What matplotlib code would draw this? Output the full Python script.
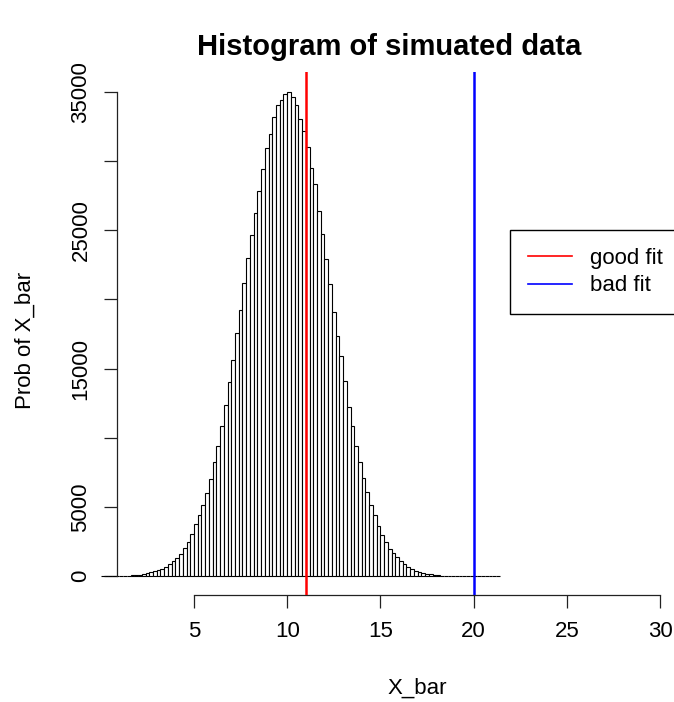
import numpy as np
import matplotlib
matplotlib.use("Agg")
import matplotlib.pyplot as plt

plt.rcParams['font.family'] = ['Liberation Sans', 'DejaVu Sans']

# ---- data ----
bin_width = 0.2
bin_left = np.round(np.arange(0.0, 21.4 - 1e-9, bin_width), 1)
counts = [
    0, 0, 0, 0, 0, 0,                                   # 0.0 - 1.0
    20, 40, 60, 90, 130, 160, 210, 290, 360, 460,       # 1.2 - 3.0
    560, 700, 870, 1100, 1300, 1640, 2050, 2450, 3050, 3800,   # 3.2 - 5.0
    4400, 5120, 5990, 7050, 8260, 9410, 10860, 12370, 14060, 15620,  # 5.2 - 7.0
    17550, 19220, 21150, 23000, 24640, 26230, 27840, 29380, 30900, 31960,  # 7.2 - 9.0
    33150, 34040, 34400, 34810, 34950, 34600, 34040, 33030, 32160, 31030,  # 9.2 - 11.0
    29520, 28310, 26390, 24700, 22890, 21100, 19110, 17380, 15890, 14080,  # 11.2 - 13.0
    12200, 10860, 9410, 8260, 7130, 6090, 5180, 4410, 3660, 3010,  # 13.2 - 15.0
    2500, 1990, 1660, 1370, 1110, 870, 640, 510, 410, 340,   # 15.2 - 17.0
    260, 190, 140, 100, 70, 50, 40, 30, 20,              # 17.2 - 18.8
    0, 0, 0, 0, 0, 0, 0, 0, 0, 0, 0, 0,                  # 19.0 - 21.2
]
assert len(counts) == len(bin_left)

good_fit = 11
bad_fit = 20
legend_labels = ["good fit", "bad fit"]
legend_colors = ["red", "blue"]
x_ticks = [5, 10, 15, 20, 25, 30]
y_ticks = [0, 5000, 10000, 15000, 20000, 25000, 30000, 35000]
y_ticklabels = ["0", "5000", "", "15000", "", "25000", "", "35000"]

# ---- layout in pixels ----
W, H = 674, 702
DPI = 100
fig = plt.figure(figsize=(W / DPI, H / DPI), dpi=DPI)

px_x0, px_x30 = 100.8, 660.0        # x=0 and x=30
px_top, px_bot = 72.0, 595.0
ax = fig.add_axes([px_x0 / W, (H - px_bot) / H, (px_x30 - px_x0) / W, (px_bot - px_top) / H])
ax.set_xlim(0, 30)
ax.set_ylim(-1350, 36420)
ax.patch.set_alpha(0)

FS = 16
ax.bar(bin_left, counts, width=bin_width, align='edge', facecolor='white',
       edgecolor='black', linewidth=0.8, clip_on=False, zorder=2)

ax.axvline(good_fit, color=legend_colors[0], linewidth=1.8, zorder=3)
ax.axvline(bad_fit, color=legend_colors[1], linewidth=1.8, zorder=3)

for s in ['top', 'right']:
    ax.spines[s].set_visible(False)
ax.spines['left'].set_position(('data', 0.87))
ax.spines['left'].set_bounds(0, 35000)
ax.spines['bottom'].set_bounds(5, 30)
for s in ['left', 'bottom']:
    ax.spines[s].set_linewidth(0.9)
    ax.spines[s].set_color('#222222')

ax.set_xticks(x_ticks)
ax.set_xticklabels([str(t) for t in x_ticks])
ax.set_yticks(y_ticks)
ax.set_yticklabels(y_ticklabels, rotation=90, va='center')
ax.tick_params(axis='both', direction='out', length=9.4, width=0.9,
               color='#222222', labelsize=FS)
ax.tick_params(axis='x', pad=9)
ax.tick_params(axis='y', pad=9)

fig.text(389 / W, 1 - 47 / H, "Histogram of simuated data", ha='center',
         va='center', fontsize=21, fontweight='bold')
fig.text(417 / W, 1 - 688 / H, "X_bar", ha='center', va='center', fontsize=FS)
fig.text(25 / W, 1 - 340 / H, "Prob of X_bar", ha='center', va='center',
         rotation=90, fontsize=FS)

handles = [plt.Line2D([], [], color=c, linewidth=1.2) for c in legend_colors]
leg = fig.legend(handles, legend_labels, loc='upper left',
                 bbox_to_anchor=(510 / W, 1 - 230 / H), fontsize=FS,
                 frameon=True, fancybox=False, framealpha=1, borderpad=0.8,
                 labelspacing=0.3, handlelength=2.0, handletextpad=0.8,
                 borderaxespad=0)
leg.get_frame().set_edgecolor('black')
leg.get_frame().set_linewidth(1.0)

fig.savefig("out.png", dpi=DPI)
